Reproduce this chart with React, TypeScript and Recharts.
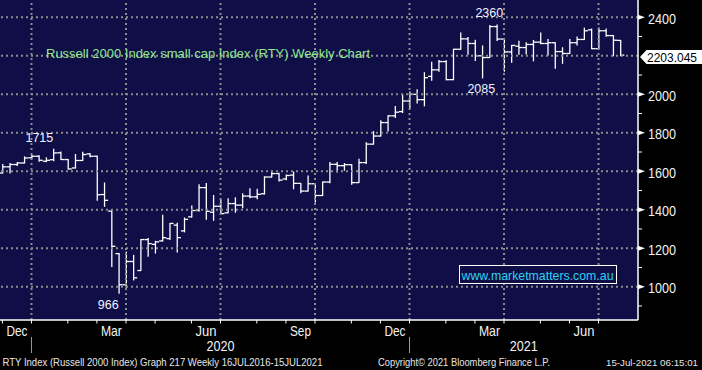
import React from "react";
import {
  ComposedChart,
  Bar,
  XAxis,
  YAxis,
  CartesianGrid,
  ReferenceLine,
  ReferenceDot,
} from "recharts";

// Weekly bars, week ending (Friday)
const weekEnding = [
  "2019-11-29", "2019-12-06", "2019-12-13", "2019-12-20", "2019-12-27",
  "2020-01-03", "2020-01-10", "2020-01-17", "2020-01-24", "2020-01-31",
  "2020-02-07", "2020-02-14", "2020-02-21", "2020-02-28", "2020-03-06",
  "2020-03-13", "2020-03-20", "2020-03-27", "2020-04-03", "2020-04-10",
  "2020-04-17", "2020-04-24", "2020-05-01", "2020-05-08", "2020-05-15",
  "2020-05-22", "2020-05-29", "2020-06-05", "2020-06-12", "2020-06-19",
  "2020-06-26", "2020-07-03", "2020-07-10", "2020-07-17", "2020-07-24",
  "2020-07-31", "2020-08-07", "2020-08-14", "2020-08-21", "2020-08-28",
  "2020-09-04", "2020-09-11", "2020-09-18", "2020-09-25", "2020-10-02",
  "2020-10-09", "2020-10-16", "2020-10-23", "2020-10-30", "2020-11-06",
  "2020-11-13", "2020-11-20", "2020-11-27", "2020-12-04", "2020-12-11",
  "2020-12-18", "2020-12-25", "2021-01-01", "2021-01-08", "2021-01-15",
  "2021-01-22", "2021-01-29", "2021-02-05", "2021-02-12", "2021-02-19",
  "2021-02-26", "2021-03-05", "2021-03-12", "2021-03-19", "2021-03-26",
  "2021-04-02", "2021-04-09", "2021-04-16", "2021-04-23", "2021-04-30",
  "2021-05-07", "2021-05-14", "2021-05-21", "2021-05-28", "2021-06-04",
  "2021-06-11", "2021-06-18", "2021-06-25", "2021-07-02", "2021-07-09",
  "2021-07-16",
];

const open = [
  1591, 1623, 1635, 1643, 1670, 1678, 1652, 1660, 1696, 1661,
  1617, 1656, 1690, 1678, 1479, 1393, 1172, 1010, 1131, 1084,
  1245, 1220, 1238, 1250, 1320, 1290, 1363, 1396, 1515, 1387,
  1418, 1384, 1432, 1424, 1471, 1467, 1483, 1570, 1588, 1560,
  1580, 1537, 1497, 1535, 1474, 1544, 1636, 1629, 1634, 1541,
  1645, 1741, 1783, 1853, 1888, 1910, 1965, 2000, 1972, 2093,
  2127, 2170, 2076, 2234, 2288, 2264, 2200, 2191, 2352, 2287,
  2220, 2250, 2243, 2259, 2271, 2264, 2268, 2222, 2212, 2268,
  2285, 2335, 2237, 2330, 2305, 2280,
];

const high = [
  1635, 1640, 1645, 1675, 1682, 1680, 1670, 1715, 1700, 1661,
  1687, 1699, 1692, 1678, 1539, 1393, 1172, 1180, 1163, 1245,
  1250, 1236, 1372, 1329, 1330, 1357, 1420, 1530, 1537, 1474,
  1453, 1457, 1462, 1483, 1509, 1506, 1571, 1601, 1590, 1580,
  1596, 1537, 1575, 1535, 1544, 1645, 1645, 1640, 1634, 1662,
  1748, 1806, 1862, 1888, 1937, 1998, 2012, 2024, 2112, 2166,
  2175, 2174, 2234, 2318, 2295, 2281, 2251, 2357, 2360, 2290,
  2254, 2276, 2268, 2280, 2318, 2285, 2268, 2242, 2285, 2298,
  2344, 2339, 2344, 2339, 2305, 2280,
];

const low = [
  1591, 1591, 1630, 1643, 1668, 1652, 1650, 1655, 1661, 1612,
  1617, 1656, 1676, 1449, 1418, 1105, 966, 985, 1035, 1084,
  1158, 1175, 1238, 1245, 1180, 1285, 1362, 1394, 1350, 1345,
  1380, 1384, 1387, 1410, 1462, 1457, 1482, 1570, 1549, 1556,
  1509, 1488, 1497, 1440, 1474, 1540, 1596, 1605, 1532, 1541,
  1640, 1741, 1783, 1809, 1880, 1905, 1928, 1955, 1940, 2073,
  2120, 2076, 2076, 2234, 2208, 2175, 2085, 2191, 2280, 2120,
  2166, 2208, 2209, 2174, 2262, 2203, 2135, 2161, 2212, 2256,
  2285, 2237, 2237, 2302, 2200, 2200,
];

const close = [
  1623, 1635, 1643, 1669, 1678, 1657, 1657, 1695, 1661, 1612,
  1656, 1687, 1678, 1478, 1449, 1210, 1010, 1131, 1046, 1245,
  1224, 1233, 1255, 1329, 1255, 1350, 1396, 1515, 1392, 1418,
  1380, 1432, 1424, 1471, 1467, 1480, 1570, 1588, 1554, 1578,
  1537, 1497, 1535, 1474, 1544, 1636, 1629, 1634, 1541, 1645,
  1741, 1783, 1853, 1888, 1907, 1965, 2000, 1972, 2086, 2127,
  2170, 2076, 2234, 2288, 2264, 2200, 2191, 2352, 2287, 2220,
  2254, 2243, 2259, 2271, 2264, 2268, 2222, 2212, 2268, 2285,
  2330, 2237, 2330, 2305, 2281, 2203.045,
];

// Axis ticks (bar indices) and labels
const monthTickIdx = [0, 4, 9, 13, 17, 21, 26, 30, 35, 39, 43, 48, 52, 56, 61, 65, 69, 74, 78, 82];
const monthLabelIdx = [2, 15, 28, 41, 54, 67, 80];
const monthLabels = ["Dec", "Mar", "Jun", "Sep", "Dec", "Mar", "Jun"];
const yearLabelIdx = [30, 71.7];
const yearLabels = ["2020", "2021"];
const yearBreakIdx = [4, 56];
const quarterGridIdx = [4, 17, 30, 43, 56, 69, 82];
const priceGrid = [1000, 1200, 1400, 1600, 1800, 2000, 2200, 2400];
const priceLabels = [1000, 1200, 1400, 1600, 1800, 2000, 2400];
const priceMinor = [900, 1100, 1300, 1500, 1700, 1900, 2100, 2300];
const lastPrice = 2203.045;

const extremeIdx = [7, 16, 68, 66];
const extremeValues = [1715, 966, 2360, 2085];
const extremeLabels = ["1715", "966", "2360", "2085"];

// styling
const FONT = "'Liberation Sans', Arial, Helvetica, sans-serif";
const extremeOffsets = [
  [0, -7.5],
  [0, 16],
  [6.5, -8.3],
  [13, 15.4],
];

const data = open.map((o, i) => ({
  i,
  date: weekEnding[i],
  o,
  h: high[i],
  l: low[i],
  c: close[i],
  range: [low[i], high[i]],
}));

const OhlcShape = (props: any) => {
  const { x, y, width, height, payload } = props;
  if (x == null || y == null) return null;
  const cx = x + width / 2;
  const { o, h, l, c } = payload;
  const span = h - l;
  const top = Math.min(y, y + height);
  const hh = Math.abs(height);
  const toY = (v: number) => (span > 0 ? top + ((h - v) / span) * hh : top);
  return (
    <g stroke="#ffffff" strokeWidth={1.3}>
      <line x1={cx} x2={cx} y1={top - 0.5} y2={top + hh + 0.5} />
      <line x1={cx - 3.6} x2={cx} y1={toY(o)} y2={toY(o)} />
      <line x1={cx} x2={cx + 3.6} y1={toY(c)} y2={toY(c)} />
    </g>
  );
};

const XTick = (props: any) => {
  const { x, y, payload } = props;
  const v = payload.value;
  const els: any[] = [];
  if (monthTickIdx.includes(v)) {
    els.push(<line key="t" x1={x} x2={x} y1={y} y2={y + 3.5} stroke="#ffffff" strokeWidth={1} />);
  }
  if (yearBreakIdx.includes(v)) {
    els.push(<line key="b" x1={x} x2={x} y1={y + 17} y2={y + 33} stroke="#9a9a9a" strokeWidth={1} />);
  }
  const mi = monthLabelIdx.indexOf(v);
  if (mi >= 0) {
    els.push(
      <text key="m" x={x} y={y + 15.5} textAnchor="middle" fill="#f2f2f2" fontSize={14.5}
        fontFamily={FONT} textLength={21} lengthAdjust="spacingAndGlyphs">
        {monthLabels[mi]}
      </text>
    );
  }
  const yi = yearLabelIdx.indexOf(v);
  if (yi >= 0) {
    els.push(
      <text key="y" x={x} y={y + 30.5} textAnchor="middle" fill="#f2f2f2" fontSize={14.5}
        fontFamily={FONT} textLength={28} lengthAdjust="spacingAndGlyphs">
        {yearLabels[yi]}
      </text>
    );
  }
  return <g>{els}</g>;
};

const YTick = (props: any) => {
  const { x, y, payload } = props;
  const v = payload.value;
  if (v === lastPrice) {
    const cy = y + 1.8;
    return (
      <g>
        <polygon
          points={`${x + 2},${cy} ${x + 8.5},${cy - 7} ${x + 64},${cy - 7} ${x + 64},${cy + 7} ${x + 8.5},${cy + 7}`}
          fill="#ffffff"
        />
        <text x={x + 9} y={cy + 4.8} fill="#000000" fontSize={13} fontFamily={FONT}
          textLength={50} lengthAdjust="spacingAndGlyphs">
          {String(lastPrice)}
        </text>
      </g>
    );
  }
  if (priceLabels.includes(v)) {
    const s = String(v);
    return (
      <g>
        <polygon points={`${x},${y - 2.5} ${x + 7},${y} ${x},${y + 2.5}`} fill="#ffffff" />
        <text x={x + 10} y={y + 6.5} fill="#f2f2f2" fontSize={14.5} fontFamily={FONT}
          textLength={s.length * 7} lengthAdjust="spacingAndGlyphs">
          {s}
        </text>
      </g>
    );
  }
  if (priceGrid.includes(v)) return <g />;
  return <line x1={x} x2={x + 4} y1={y} y2={y} stroke="#ffffff" strokeWidth={1} />;
};

const xTicks = Array.from(new Set([...monthTickIdx, ...monthLabelIdx, ...yearLabelIdx])).sort((a, b) => a - b);
const yTicks = [...priceMinor, ...priceLabels, lastPrice].sort((a, b) => a - b);

export default function App() {
  return (
    <div style={{ position: "absolute", left: 0, top: 0, width: 702, height: 370, background: "#000000", overflow: "hidden" }}>
      <ComposedChart
        width={702}
        height={370}
        data={data}
        margin={{ top: 0, right: 0, bottom: 0, left: 0 }}
      >
        <CartesianGrid horizontal={false} vertical={false} fill="#0f0e47" stroke="none" />
        <XAxis
          dataKey="i"
          type="number"
          domain={[-0.33, 87.43]}
          allowDataOverflow
          ticks={xTicks}
          interval={0}
          height={50}
          tickSize={0}
          tickMargin={0}
          tickLine={false}
          axisLine={{ stroke: "#ffffff", strokeWidth: 1.5 }}
          tick={<XTick />}
        />
        <YAxis
          orientation="right"
          type="number"
          domain={[827, 2490]}
          allowDataOverflow
          ticks={yTicks}
          interval={0}
          width={64}
          tickSize={0}
          tickMargin={0}
          tickLine={false}
          axisLine={{ stroke: "#ffffff", strokeWidth: 1.5 }}
          tick={<YTick />}
        />
        {priceGrid.map((v) => (
          <ReferenceLine key={"h" + v} y={v} stroke="#8c8c8c" strokeWidth={2} strokeDasharray="2 3" />
        ))}
        {quarterGridIdx.map((v) => (
          <ReferenceLine key={"v" + v} x={v} stroke="#8c8c8c" strokeWidth={2} strokeDasharray="2 3" />
        ))}
        <Bar
          dataKey="range"
          barSize={6}
          isAnimationActive={false}
          shape={(p: any) => <OhlcShape {...p} />}
        />
        {extremeIdx.map((idx, k) => (
          <ReferenceDot
            key={"e" + k}
            x={idx}
            y={extremeValues[k]}
            r={0}
            ifOverflow="visible"
            shape={(p: any) => (
              <text
                x={p.cx + extremeOffsets[k][0]}
                y={p.cy + extremeOffsets[k][1]}
                textAnchor="end"
                fill="#eef4ff"
                fontSize={12.5}
                fontFamily={FONT}
              >
                {extremeLabels[k]}
              </text>
            )}
          />
        ))}
      </ComposedChart>
      <svg
        width={702}
        height={370}
        style={{ position: "absolute", left: 0, top: 0, pointerEvents: "none" }}
      >
        <text x={46} y={57.5} fill="#8ee88e" fontSize={13} fontFamily={FONT} textLength={324} lengthAdjust="spacingAndGlyphs">
          Russell 2000 Index small cap Index (RTY) Weekly Chart
        </text>
        <rect x={459.5} y={265.5} width={157} height={18} fill="#0f0e47" stroke="#ffffff" strokeWidth={1} />
        <text x={461.5} y={279.5} fill="#2fd0f0" fontSize={13} fontFamily={FONT} textLength={152} lengthAdjust="spacingAndGlyphs">
          www.marketmatters.com.au
        </text>
        <text x={2.5} y={365.5} fill="#e6e6e6" fontSize={11} fontFamily={FONT} textLength={320} lengthAdjust="spacingAndGlyphs">
          RTY Index (Russell 2000 Index) Graph 217  Weekly 16JUL2016-15JUL2021
        </text>
        <text x={378} y={365.5} fill="#e6e6e6" fontSize={11} fontFamily={FONT} textLength={172} lengthAdjust="spacingAndGlyphs">
          Copyright© 2021 Bloomberg Finance L.P.
        </text>
        <text x={606} y={365.5} fill="#e6e6e6" fontSize={9} fontFamily={FONT} textLength={92} lengthAdjust="spacingAndGlyphs">
          15-Jul-2021 06:15:01
        </text>
      </svg>
    </div>
  );
}
